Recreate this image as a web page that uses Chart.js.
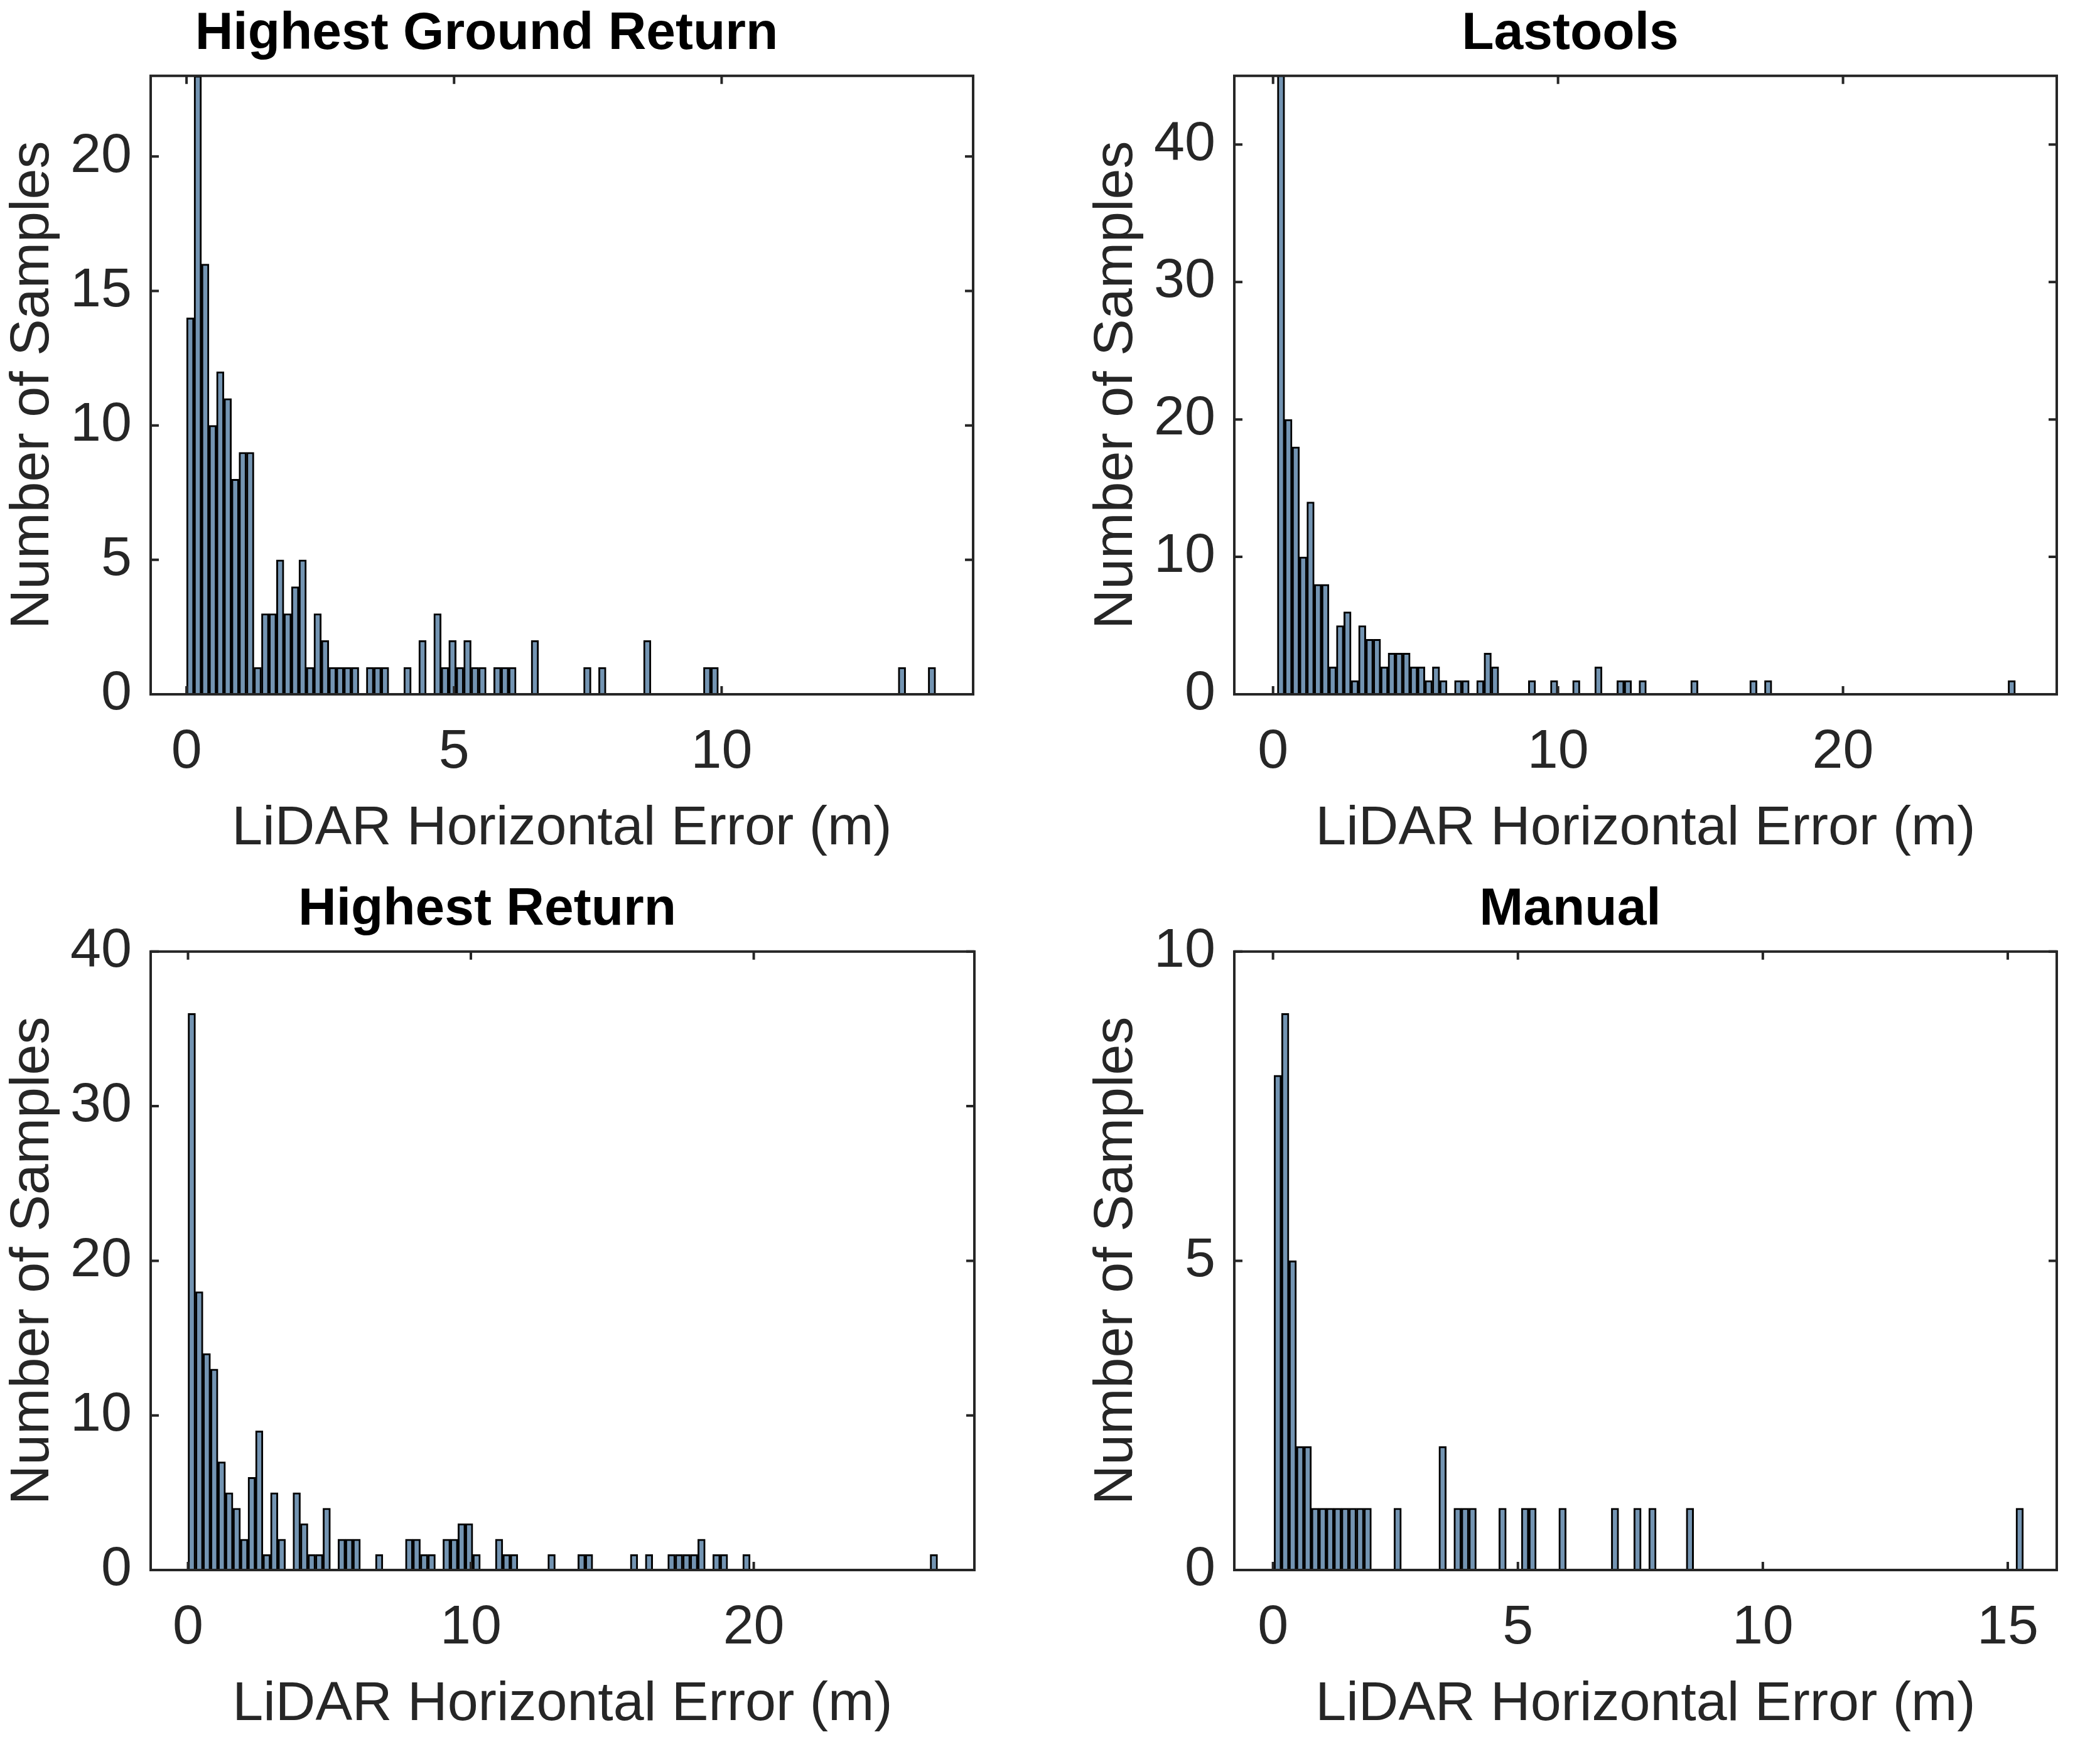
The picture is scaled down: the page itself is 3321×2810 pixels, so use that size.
<!DOCTYPE html>
<html>
<head>
<meta charset="utf-8">
<script src="https://cdn.jsdelivr.net/npm/chart.js@4"></script>
<style>
  body { margin: 0; background: #fff; width: 3321px; height: 2810px; position: relative; overflow: hidden; }
  .panel { position: absolute; }
</style>
</head>
<body>
<div class="panel" style="left:0px;top:0px;width:1600px;height:1400px"><canvas id="c1"></canvas></div>
<div class="panel" style="left:1726px;top:0px;width:1595px;height:1400px"><canvas id="c2"></canvas></div>
<div class="panel" style="left:0px;top:1395px;width:1600px;height:1400px"><canvas id="c3"></canvas></div>
<div class="panel" style="left:1726px;top:1395px;width:1595px;height:1400px"><canvas id="c4"></canvas></div>
<script>
// counts per bin, 100 bins each
groundCounts = [
    14, 23, 16, 10, 12, 11, 8, 9, 9, 1,
    3, 3, 5, 3, 4, 5, 1, 3, 2, 1,
    1, 1, 1, 0, 1, 1, 1, 0, 0, 1,
    0, 2, 0, 3, 1, 2, 1, 2, 1, 1,
    0, 1, 1, 1, 0, 0, 2, 0, 0, 0,
    0, 0, 0, 1, 0, 1, 0, 0, 0, 0,
    0, 2, 0, 0, 0, 0, 0, 0, 0, 1,
    1, 0, 0, 0, 0, 0, 0, 0, 0, 0,
    0, 0, 0, 0, 0, 0, 0, 0, 0, 0,
    0, 0, 0, 0, 0, 1, 0, 0, 0, 1,
]
lastoolsCounts = [
    48, 20, 18, 10, 14, 8, 8, 2, 5, 6,
    1, 5, 4, 4, 2, 3, 3, 3, 2, 2,
    1, 2, 1, 0, 1, 1, 0, 1, 3, 2,
    0, 0, 0, 0, 1, 0, 0, 1, 0, 0,
    1, 0, 0, 2, 0, 0, 1, 1, 0, 1,
    0, 0, 0, 0, 0, 0, 1, 0, 0, 0,
    0, 0, 0, 0, 1, 0, 1, 0, 0, 0,
    0, 0, 0, 0, 0, 0, 0, 0, 0, 0,
    0, 0, 0, 0, 0, 0, 0, 0, 0, 0,
    0, 0, 0, 0, 0, 0, 0, 0, 0, 1,
]
highestCounts = [
    36, 18, 14, 13, 7, 5, 4, 2, 6, 9,
    1, 5, 2, 0, 5, 3, 1, 1, 4, 0,
    2, 2, 2, 0, 0, 1, 0, 0, 0, 2,
    2, 1, 1, 0, 2, 2, 3, 3, 1, 0,
    0, 2, 1, 1, 0, 0, 0, 0, 1, 0,
    0, 0, 1, 1, 0, 0, 0, 0, 0, 1,
    0, 1, 0, 0, 1, 1, 1, 1, 2, 0,
    1, 1, 0, 0, 1, 0, 0, 0, 0, 0,
    0, 0, 0, 0, 0, 0, 0, 0, 0, 0,
    0, 0, 0, 0, 0, 0, 0, 0, 0, 1,
]
manualCounts = [
    8, 9, 5, 2, 2, 1, 1, 1, 1, 1,
    1, 1, 1, 0, 0, 0, 1, 0, 0, 0,
    0, 0, 2, 0, 1, 1, 1, 0, 0, 0,
    1, 0, 0, 1, 1, 0, 0, 0, 1, 0,
    0, 0, 0, 0, 0, 1, 0, 0, 1, 0,
    1, 0, 0, 0, 0, 1, 0, 0, 0, 0,
    0, 0, 0, 0, 0, 0, 0, 0, 0, 0,
    0, 0, 0, 0, 0, 0, 0, 0, 0, 0,
    0, 0, 0, 0, 0, 0, 0, 0, 0, 0,
    0, 0, 0, 0, 0, 0, 0, 0, 0, 1,
]
// bin start / width (m)
binStart = [0, 0.15, 0, 0.02]
binWidth = [0.14, 0.259, 0.265, 0.153]
titles = ['Highest Ground Return', 'Lastools', 'Highest Return', 'Manual']
xRange = [[-0.67, 14.7], [-1.36, 27.5], [-1.32, 27.8], [-0.79, 16.0]]
yMax = [23, 45, 40, 10]
xTickVals = [[0, 5, 10], [0, 10, 20], [0, 10, 20], [0, 5, 10, 15]]
yTickVals = [[0, 5, 10, 15, 20], [0, 10, 20, 30, 40], [0, 10, 20, 30, 40], [0, 5, 10]]

var FONT = "'Liberation Sans', Arial, sans-serif";

// box + inward ticks like MATLAB
var frame = {
    id: 'frame',
    afterDatasetsDraw: function (chart) {
        var a = chart.chartArea, c = chart.ctx;
        var xs = chart.scales.x, ys = chart.scales.y, L = 13;
        c.save();
        c.strokeStyle = '#262626';
        c.lineWidth = 4;
        c.strokeRect(a.left, a.top, a.right - a.left, a.bottom - a.top);
        c.beginPath();
        xs.ticks.forEach(function (t) {
            var p = xs.getPixelForValue(t.value);
            c.moveTo(p, a.bottom); c.lineTo(p, a.bottom - L);
            c.moveTo(p, a.top); c.lineTo(p, a.top + L);
        });
        ys.ticks.forEach(function (t) {
            var p = ys.getPixelForValue(t.value);
            c.moveTo(a.left, p); c.lineTo(a.left + L, p);
            c.moveTo(a.right, p); c.lineTo(a.right - L, p);
        });
        c.stroke();
        c.restore();
    }
};

function renderHist(id, i, counts, padRight) {
    var pts = counts.map(function (v, k) {
        return { x: binStart[i] + (k + 0.5) * binWidth[i], y: v };
    });
    new Chart(document.getElementById(id), {
        type: 'bar',
        data: {
            datasets: [{
                data: pts,
                backgroundColor: '#7394b2',
                borderColor: '#000',
                borderWidth: function (ctx) { return ctx.raw && ctx.raw.y > 0 ? 3 : 0; },
                borderSkipped: 'bottom',
                barPercentage: 1,
                categoryPercentage: 1
            }]
        },
        plugins: [frame],
        options: {
            responsive: true,
            maintainAspectRatio: false,
            animation: { duration: 0 },
            layout: { padding: { left: 0, right: padRight, top: 0, bottom: 0 } },
            plugins: {
                legend: { display: false },
                tooltip: { enabled: false },
                title: {
                    display: true,
                    text: titles[i],
                    color: '#000',
                    font: { family: FONT, size: 84, weight: 'bold', lineHeight: 1.2 },
                    padding: { top: 4, bottom: 16 }
                }
            },
            scales: {
                x: {
                    type: 'linear',
                    min: xRange[i][0],
                    max: xRange[i][1],
                    offset: false,
                    grid: { display: false, drawTicks: false },
                    border: { display: false },
                    afterBuildTicks: function (s) { s.ticks = xTickVals[i].map(function (v) { return { value: v }; }); },
                    ticks: { color: '#262626', padding: 40, maxRotation: 0, font: { family: FONT, size: 88 } },
                    title: {
                        display: true, text: 'LiDAR Horizontal Error (m)', color: '#262626',
                        font: { family: FONT, size: 88 }, padding: { top: 0, bottom: 26 }
                    },
                    afterFit: function (s) { s.height = 294; }
                },
                y: {
                    min: 0,
                    max: yMax[i],
                    grid: { display: false, drawTicks: false },
                    border: { display: false },
                    afterBuildTicks: function (s) { s.ticks = yTickVals[i].map(function (v) { return { value: v }; }); },
                    ticks: { color: '#262626', padding: 30, font: { family: FONT, size: 88 } },
                    title: {
                        display: true, text: 'Number of Samples', color: '#262626',
                        font: { family: FONT, size: 88 }, padding: { top: 0, bottom: 0 }
                    },
                    afterFit: function (s) { s.width = 240; }
                }
            }
        }
    });
}

renderHist('c1', 0, groundCounts, 50);
renderHist('c2', 1, lastoolsCounts, 45);
renderHist('c3', 2, highestCounts, 48);
renderHist('c4', 3, manualCounts, 45);
</script>
</body>
</html>
